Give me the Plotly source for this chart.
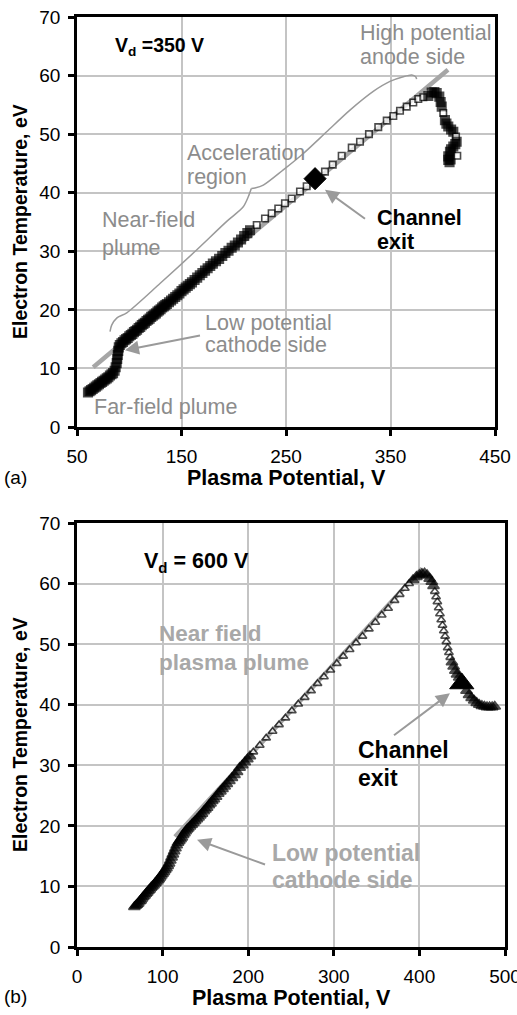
import plotly.graph_objects as go

FONT = "Liberation Sans"

# ---------------- Panel (a): Vd = 350 V ----------------
a_v = [60.5, 62, 63.5, 65, 66.5, 68, 69.5, 71, 72.5, 74, 75.5, 77, 78.5, 80, 81.5, 83, 84.5, 86,
       87, 88, 88.5, 89, 89.5, 90, 91, 92.5, 94, 95.5, 97, 98.5, 100, 101.5, 103, 104.5, 106,
       107.5, 109, 110.5, 112, 113.5, 115, 116.5, 118, 119.5, 121, 122.5, 124, 125.5, 127,
       128.5, 130, 131.5, 133, 134.5, 136, 138, 140, 142, 144, 146, 148, 150, 152, 154, 156,
       158, 160, 162.5, 165, 167.5, 170, 172.5, 175, 177.5, 180, 183, 186, 189, 192, 195, 198,
       201, 204, 207, 210, 213,
       215.6, 222, 229.9, 236.3, 242.6, 249, 255.4, 263.4, 269.8, 277.5, 287.3, 294.7, 303.3,
       312.9, 320.8, 329.4, 338.3, 346.4, 352.7, 359.1, 365.5, 371.8, 376.6, 381.4, 386.2,
       389.4, 392, 394.2, 396.7, 398, 399, 400.5, 402.1, 403.5, 405.3, 408, 410.1, 412.7,
       413.3, 412, 410.1, 408, 406.9, 405.3, 405.3, 406.5, 407.5, 413.9]
a_te = [5.9, 6.1, 6.3, 6.5, 6.7, 6.9, 7.1, 7.3, 7.5, 7.7, 7.9, 8.1, 8.3, 8.5, 8.8, 9.0, 9.2, 9.6,
        10.2, 10.9, 11.6, 12.3, 13.0, 13.6, 14.0, 14.3, 14.5, 14.8, 15.0, 15.2, 15.5, 15.7, 15.9,
        16.2, 16.4, 16.6, 16.9, 17.1, 17.4, 17.6, 17.8, 18.1, 18.3, 18.5, 18.8, 19.0, 19.2, 19.4,
        19.7, 19.9, 20.1, 20.4, 20.6, 20.8, 21.0, 21.3, 21.6, 21.9, 22.2, 22.5, 22.8, 23.2, 23.5,
        23.8, 24.1, 24.4, 24.7, 25.1, 25.5, 25.9, 26.3, 26.7, 27.1, 27.5, 27.9, 28.3, 28.7, 29.2,
        29.7, 30.1, 30.6, 31.0, 31.5, 32.0, 32.6, 33.1,
        33.6, 34.5, 35.6, 36.5, 37.3, 38.2, 39.0, 40.2, 41.1, 42.3, 43.6, 44.8, 46.3,
        47.7, 48.7, 50.0, 51.2, 52.3, 53.1, 54.0, 54.7, 55.4, 56.0, 56.3, 56.5,
        57.1, 57.2, 57.0, 56.4, 55.5, 54.7, 53.6, 52.4, 51.8, 51.3, 50.8, 50.4, 49.6,
        48.7, 48.3, 47.9, 47.4, 47.0, 46.2, 45.6, 45.2, 45.7, 46.3]
a_exit_v = [277.8]
a_exit_te = [42.4]
a_fit_v = [65.5, 405.0]
a_fit_te = [10.2, 61.0]
a_brace_lo_v = [81.6, 83.2, 88.0, 97.6, 129.4, 161.3, 193.3, 209.1, 213.9, 216.8]
a_brace_lo_te = [16.3, 17.4, 18.6, 19.5, 24.5, 29.7, 35.1, 37.6, 39.3, 40.7]
a_brace_hi_v = [216.8, 220.3, 228.3, 247.4, 266.6, 288.9, 311.2, 333.5, 349.5, 362.2, 370.3, 374.1, 375.0]
a_brace_hi_te = [40.7, 40.8, 41.3, 43.9, 46.7, 50.4, 54.1, 57.3, 59.0, 59.8, 60.1, 59.8, 59.4]

# ---------------- Panel (b): Vd = 600 V ----------------
b_v = [67, 68.5, 70, 71.5, 73, 74.5, 76, 77.5, 79, 80.5, 82, 83.5, 85, 86.5, 88, 89.5, 91, 92.5,
       94, 95.5, 97, 98.5, 100, 101.5, 103, 104.5, 106, 107.5, 109, 110.5, 112, 113.5, 115,
       116.5, 118, 119.5, 121, 122.5, 124, 125.5, 127, 128.5, 130, 132, 134, 136, 138, 140,
       142, 144, 146, 148, 150, 152, 154, 156, 158, 160, 162.5, 165, 167.5, 170, 172.5, 175,
       178, 181, 184, 187, 190, 193, 196, 199, 202,
       206, 213.5, 221, 228.5, 236, 243.5, 251, 258.5, 266, 273.5, 281, 288.5, 296, 303.5,
       311, 318.5, 326, 333.5, 341, 348.5, 356, 363.5, 371, 377, 383, 388, 392.5, 396.5, 400,
       403, 406,
       409, 412, 414.5, 416.5, 418, 419.5, 421, 422.5, 424, 425.5, 427, 428.5, 430, 431.5,
       433, 434.5, 436, 438, 440, 442, 444, 446.5, 449, 452, 455, 458, 461, 464, 467, 470,
       473, 476, 479, 482, 485, 488]
b_te = [6.6, 6.8, 7.0, 7.2, 7.5, 7.7, 8.0, 8.3, 8.5, 8.8, 9.0, 9.3, 9.5, 9.8, 10.0, 10.2, 10.5,
        10.7, 11.0, 11.2, 11.5, 11.8, 12.1, 12.4, 12.7, 13.0, 13.4, 13.8, 14.3, 14.8, 15.3, 15.8,
        16.3, 16.8, 17.2, 17.5, 17.8, 18.1, 18.5, 18.8, 19.1, 19.4, 19.6, 19.9, 20.2, 20.5, 20.8,
        21.1, 21.4, 21.7, 22.0, 22.4, 22.7, 23.0, 23.4, 23.7, 24.1, 24.4, 24.8, 25.3, 25.7, 26.1,
        26.5, 26.9, 27.4, 27.9, 28.4, 28.9, 29.6, 30.0, 30.5, 31.0, 31.5,
        32.2, 33.3, 34.5, 35.6, 36.7, 37.8, 39.0, 40.1, 41.2, 42.3, 43.5, 44.6, 45.7, 46.8,
        48.0, 49.1, 50.2, 51.3, 52.5, 53.6, 54.8, 55.9, 57.2, 58.2, 59.2, 60.0, 60.6, 61.1, 61.4,
        61.6, 61.7,
        61.4, 60.8, 60.3, 59.6, 58.7, 57.8, 57.0, 56.0, 55.0, 54.0, 53.1, 52.2, 51.3, 50.4,
        49.4, 48.6, 47.8, 47.0, 46.3, 45.6, 45.0, 44.5, 43.9, 43.1, 42.3, 41.6, 41.1, 40.7,
        40.3, 40.0, 39.8, 39.7, 39.6, 39.6, 39.6, 39.7]
b_exit_v = [449.5]
b_exit_te = [43.5]
b_fit_v = [114.5, 403.0]
b_fit_te = [18.2, 62.5]

# ---------------- Layout geometry ----------------
W, H = 517, 1015
A_X = [77, 495]; A_Y = [17, 427]
B_X = [77, 505]; B_Y = [523, 947]
A_RX = [50, 450]; B_RX = [0, 500]; RY = [0, 70]


def dom_x(px):
    return [px[0] / W, px[1] / W]


def dom_y(py):
    return [1 - py[1] / H, 1 - py[0] / H]


def dense_flags(vs, ts, px, py, rx, thr=5.0):
    sx = (px[1] - px[0]) / (rx[1] - rx[0])
    sy = (py[1] - py[0]) / (RY[1] - RY[0])
    out = []
    n = len(vs)
    for i in range(n):
        d = []
        for j in (i - 1, i + 1):
            if 0 <= j < n:
                d.append((((vs[j] - vs[i]) * sx) ** 2 + ((ts[j] - ts[i]) * sy) ** 2) ** 0.5)
        out.append(min(d) < thr)
    return out


GRAY_LINE = "#a6a6a6"
GRAY_TXT = "#8c8c8c"
GRAY_TXT_B = "#a8a8a8"
ARROW = "#9a9a9a"

fig = go.Figure()

# panel a
fig.add_trace(go.Scatter(x=a_fit_v, y=a_fit_te, mode="lines", line=dict(color=GRAY_LINE, width=4.5),
                         xaxis="x", yaxis="y", hoverinfo="skip"))
for bv, bt in ((a_brace_lo_v, a_brace_lo_te), (a_brace_hi_v, a_brace_hi_te)):
    fig.add_trace(go.Scatter(x=bv, y=bt, mode="lines",
                             line=dict(color="#9a9a9a", width=1.5, shape="spline", smoothing=0.8),
                             xaxis="x", yaxis="y", hoverinfo="skip"))
fa = dense_flags(a_v, a_te, A_X, A_Y, A_RX)
fig.add_trace(go.Scatter(x=a_v, y=a_te, mode="markers", xaxis="x", yaxis="y",
                         marker=dict(symbol="square", size=[8.5 if f else 6.5 for f in fa],
                                     color=["black" if f else "white" for f in fa],
                                     line=dict(color="black", width=1.6))))
fig.add_trace(go.Scatter(x=a_exit_v, y=a_exit_te, mode="markers", xaxis="x", yaxis="y",
                         marker=dict(symbol="diamond", size=17, color="black",
                                     line=dict(color="black", width=1))))

# panel b
fig.add_trace(go.Scatter(x=b_fit_v, y=b_fit_te, mode="lines", line=dict(color=GRAY_LINE, width=4.5),
                         xaxis="x2", yaxis="y2", hoverinfo="skip"))
fb = dense_flags(b_v, b_te, B_X, B_Y, B_RX)
fig.add_trace(go.Scatter(x=b_v, y=b_te, mode="markers", xaxis="x2", yaxis="y2",
                         marker=dict(symbol="triangle-up", size=[10 if f else 7.5 for f in fb],
                                     color=["black" if f else "white" for f in fb],
                                     line=dict(color="black", width=1.6))))
fig.add_trace(go.Scatter(x=b_exit_v, y=b_exit_te, mode="markers", xaxis="x2", yaxis="y2",
                         marker=dict(symbol="triangle-up", size=21, color="black",
                                     line=dict(color="black", width=1))))

axis_common = dict(showgrid=True, gridcolor="#c4c4c4", gridwidth=1.5, zeroline=False,
                   showline=True, linecolor="black", linewidth=2.5, mirror=True,
                   ticks="outside", ticklen=6, tickwidth=2.5, tickcolor="black", automargin=False,
                   ticklabeloverflow="allow",
                   tickfont=dict(family=FONT, size=19, color="black"), ticklabelstandoff=4)

fig.update_layout(
    width=W, height=H, margin=dict(l=0, r=0, t=0, b=0, autoexpand=False),
    paper_bgcolor="white", plot_bgcolor="white", showlegend=False,
    xaxis=dict(domain=dom_x(A_X), range=A_RX, tick0=50, dtick=100, anchor="y", **axis_common),
    yaxis=dict(domain=dom_y(A_Y), range=RY, dtick=10, anchor="x", **axis_common),
    xaxis2=dict(domain=dom_x(B_X), range=B_RX, tick0=0, dtick=100, anchor="y2", **axis_common),
    yaxis2=dict(domain=dom_y(B_Y), range=RY, dtick=10, anchor="x2", **axis_common),
)

ann = []


def txt(x, y, s, xr, yr, size, color, bold=False):
    return dict(x=x, y=y, xref=xr, yref=yr, text=(f"<b>{s}</b>" if bold else s), showarrow=False,
                xanchor="left", yanchor="middle", font=dict(family=FONT, size=size, color=color))


# panel a labels: text, x, y, colour, bold, size
a_labels = [("V<sub>d</sub> =350 V", 84.4, 64.9, "black", True, 19.5),
            ("High potential", 318.9, 67.3, GRAY_TXT, False, 21.5),
            ("anode side", 318.9, 63.2, GRAY_TXT, False, 21.5),
            ("Acceleration", 153.3, 46.8, GRAY_TXT, False, 21.5),
            ("region", 153.3, 42.7, GRAY_TXT, False, 21.5),
            ("Near-field", 72.0, 35.3, GRAY_TXT, False, 21.5),
            ("plume", 72.0, 30.6, GRAY_TXT, False, 21.5),
            ("Low potential", 170.6, 17.8, GRAY_TXT, False, 21.5),
            ("cathode side", 170.6, 14.0, GRAY_TXT, False, 21.5),
            ("Far-field plume", 64.4, 3.4, GRAY_TXT, False, 21.5),
            ("Channel", 335.2, 35.7, "black", True, 21.5),
            ("exit", 335.2, 31.6, "black", True, 21.5)]
for s, x, y, c, b, sz in a_labels:
    ann.append(txt(x, y, s, "x", "y", sz, c, b))

b_labels = [("V<sub>d</sub> = 600 V", 75.9, 63.4, "black", 21.5),
            ("Near field", 93.5, 51.8, GRAY_TXT_B, 22.5),
            ("plasma plume", 93.5, 46.9, GRAY_TXT_B, 22.5),
            ("Channel", 325.9, 32.5, "black", 23),
            ("exit", 325.9, 27.9, "black", 23),
            ("Low potential", 225.5, 15.5, GRAY_TXT_B, 23),
            ("cathode side", 225.5, 11.1, GRAY_TXT_B, 23)]
for s, x, y, c, sz in b_labels:
    ann.append(txt(x, y, s, "x2", "y2", sz, c, True))

# arrows (head x,y ; tail ax,ay)
arrows = [("x", "y", 287.3, 40.5, 327.5, 35.3),
          ("x", "y", 95.9, 13.1, 169.6, 15.7),
          ("x2", "y2", 435.7, 41.9, 368.0, 34.7),
          ("x2", "y2", 140.2, 17.7, 222.0, 13.5)]
for xr, yr, x, y, ax, ay in arrows:
    ann.append(dict(x=x, y=y, ax=ax, ay=ay, xref=xr, yref=yr, axref=xr, ayref=yr, text=" ",
                    showarrow=True, arrowhead=2, arrowsize=1.4, arrowwidth=2, arrowcolor=ARROW,
                    standoff=0, startstandoff=0, font=dict(size=2)))

# axis titles and panel letters
for cx, cy in (((A_X[0] + A_X[1]) / 2, 478), ((B_X[0] + B_X[1]) / 2, 998)):
    ann.append(dict(x=cx / W, y=1 - cy / H, xref="paper", yref="paper",
                    text="<b>Plasma Potential, V</b>", showarrow=False, xanchor="center",
                    yanchor="middle", font=dict(family=FONT, size=21.5, color="black")))
for cy in ((A_Y[0] + A_Y[1]) / 2, (B_Y[0] + B_Y[1]) / 2):
    ann.append(dict(x=20 / W, y=1 - cy / H, xref="paper", yref="paper",
                    text="<b>Electron Temperature, eV</b>", showarrow=False, textangle=-90,
                    xanchor="center", yanchor="middle",
                    font=dict(family=FONT, size=19.5, color="black")))
for s, cy in (("(a)", 477), ("(b)", 996)):
    ann.append(dict(x=2 / W, y=1 - cy / H, xref="paper", yref="paper", text=s, showarrow=False,
                    xanchor="left", yanchor="middle", font=dict(family=FONT, size=19, color="black")))

fig.update_layout(annotations=ann)
fig.write_html("out.html")
